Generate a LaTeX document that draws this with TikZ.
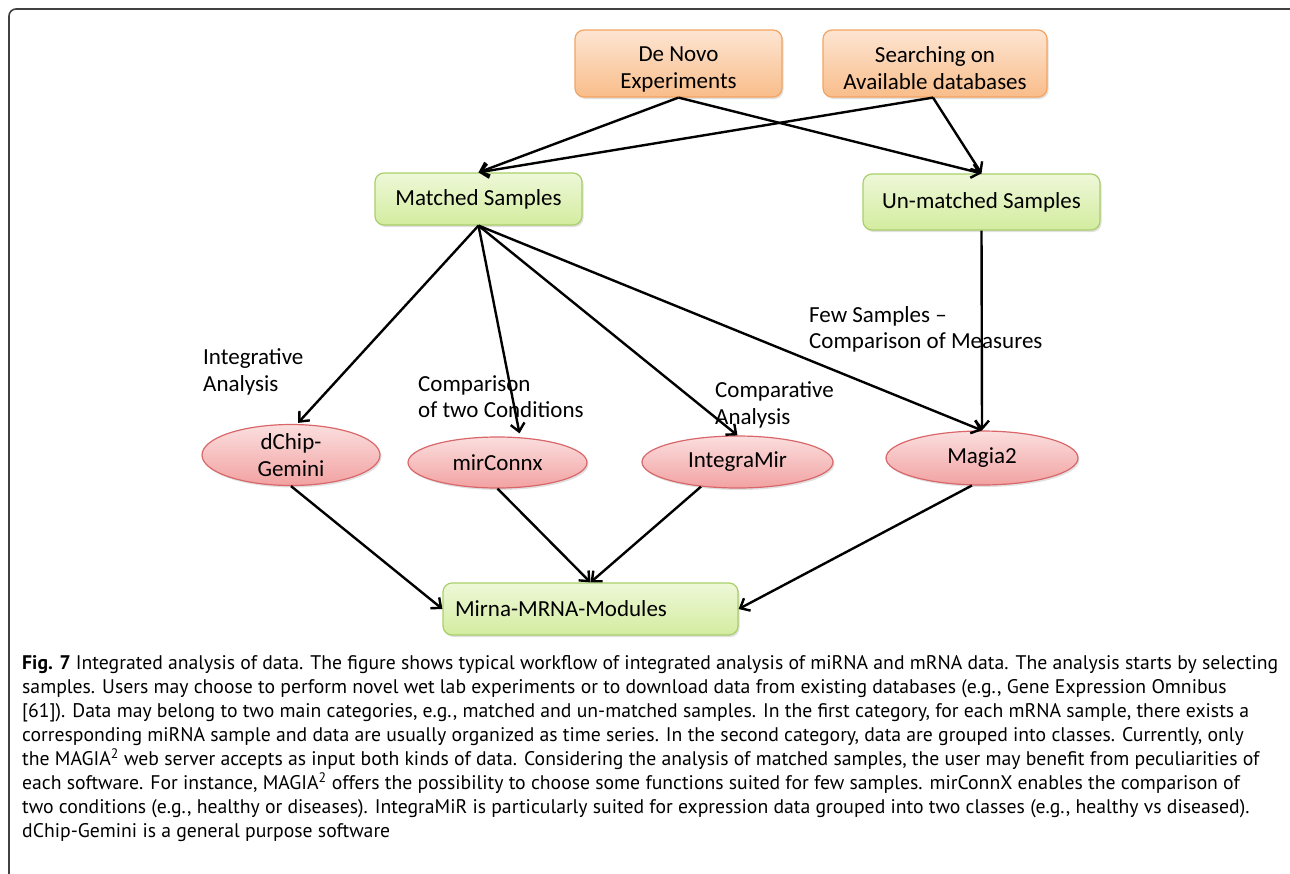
\documentclass[tikz,border=0pt]{standalone}
\usepackage{fontspec}
\setmainfont{Carlito}
\newfontfamily\capfont{PT Sans}
\usetikzlibrary{arrows.meta,shapes.geometric,shadows}
\definecolor{otop}{HTML}{FDE5D2}
\definecolor{obot}{HTML}{F9BD8A}
\definecolor{oline}{HTML}{F3A460}
\definecolor{gtop}{HTML}{EEF8D8}
\definecolor{gbot}{HTML}{D3EC9F}
\definecolor{gline}{HTML}{A8CF6A}
\definecolor{ptop}{HTML}{FBDEDE}
\definecolor{pbot}{HTML}{F2A2A2}
\definecolor{pline}{HTML}{D9676A}
\tikzset{
  diag/.style={font=\fontsize{23}{27}\selectfont, align=center, inner sep=0pt},
  shad/.style={drop shadow={shadow xshift=1.5pt, shadow yshift=-2pt, opacity=0.2, fill=black!60}},
  obox/.style={diag, shad, draw=oline, line width=1.2pt, rounded corners=9pt, top color=otop, bottom color=obot, minimum height=67pt, text height=53pt},
  gbox/.style={diag, shad, draw=gline, line width=1.2pt, rounded corners=9pt, top color=gtop, bottom color=gbot},
  pell/.style={diag, shad, ellipse, draw=pline, line width=1.2pt, top color=ptop, bottom color=pbot},
  lbl/.style={font=\fontsize{23}{26.5}\selectfont, align=left, inner sep=0pt, anchor=west},
  arr/.style={-{Straight Barb[length=8pt,width=14pt]}, line width=2.4pt, black},
}
\begin{document}
\begin{tikzpicture}[x=1pt,y=-1pt]
\useasboundingbox (0,0) rectangle (1290,873);
\draw[line width=1.6pt, black!75, rounded corners=7pt] (1291,9) -- (9,9) -- (9,874);

\node[obox, minimum width=207pt] (denovo) at (678.5,63.5) {De Novo\\Experiments};
\node[obox, minimum width=224pt] (search) at (935,63.5) {Searching on\\Available databases};
\node[gbox, minimum width=207pt, minimum height=52pt] (matched) at (478.5,199) {Matched Samples};
\node[gbox, minimum width=237pt, minimum height=56pt] (unmatched) at (981.5,202) {Un-matched Samples};
\node[gbox, text width=271pt, align=left, inner xsep=12pt, minimum height=52pt] (mirna) at (590.5,609) {Mirna-MRNA-Modules};

\node[pell, minimum width=178pt, minimum height=56pt] (dchip) at (291,455) {dChip-\\Gemini};
\node[pell, minimum width=179pt, minimum height=51pt] (mirconnx) at (497.5,462.5) {mirConnx};
\node[pell, minimum width=191pt, minimum height=52pt] (integramir) at (737.5,462) {IntegraMir};
\node[pell, minimum width=192pt, minimum height=54pt] (magia) at (982,458) {Magia2};

\node[lbl] (lint) at (203,372) {Integrative\\Analysis};
\node[lbl] (lcomp) at (418,396.5) {Comparison\\of two Conditions};
\node[lbl] (lcompa) at (715,405) {Comparative\\Analysis};
\node[lbl] (lfew) at (809,329.5) {Few Samples –\\Comparison of Measures};

\draw[arr] (denovo.south) -- (matched.north);
\draw[arr] (denovo.south) -- (unmatched.north);
\draw[arr] ([xshift=-2pt]search.south) -- (matched.north);
\draw[arr] ([xshift=-2pt]search.south) -- (unmatched.north);
\draw[arr] (matched.south) -- ([xshift=7pt,yshift=1pt]dchip.north);
\draw[arr] (matched.south) -- ([xshift=22pt,yshift=3pt]mirconnx.north);
\draw[arr] (matched.south) -- (integramir.north);
\draw[arr] (matched.south) -- (magia.north);
\draw[arr] (unmatched.south) -- (magia.north);
\draw[arr] (dchip.south) -- (mirna.west);
\draw[arr] (mirconnx.south) -- (mirna.north);
\draw[arr] (integramir.214) -- (mirna.north);
\draw[arr] (magia.250) -- (mirna.east);

\node[anchor=north west, inner sep=0pt, align=left, font=\capfont\fontsize{19.7}{24.1}\selectfont] (caption) at (22,655) {%
\textbf{Fig. 7} Integrated analysis of data. The figure shows typical workflow of integrated analysis of miRNA and mRNA data. The analysis starts by selecting\\
samples. Users may choose to perform novel wet lab experiments or to download data from existing databases (e.g., Gene Expression Omnibus\\
{[61]}). Data may belong to two main categories, e.g., matched and un-matched samples. In the first category, for each mRNA sample, there exists a\\
corresponding miRNA sample and data are usually organized as time series. In the second category, data are grouped into classes. Currently, only\\
the MAGIA\textsuperscript{2} web server accepts as input both kinds of data. Considering the analysis of matched samples, the user may benefit from peculiarities of\\
each software. For instance, MAGIA\textsuperscript{2} offers the possibility to choose some functions suited for few samples. mirConnX enables the comparison of\\
two conditions (e.g., healthy or diseases). IntegraMiR is particularly suited for expression data grouped into two classes (e.g., healthy vs diseased).\\
dChip-Gemini is a general purpose software};
\end{tikzpicture}
\end{document}
